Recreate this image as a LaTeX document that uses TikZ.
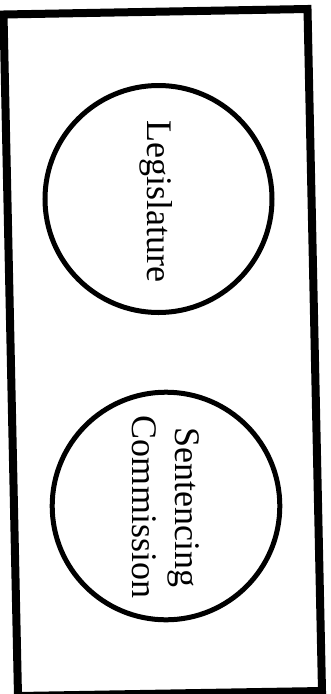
\documentclass[tikz,border=0pt]{standalone}
\usepackage{fontspec}
\setmainfont{Liberation Serif}
\usepackage{tikz}
\usetikzlibrary{calc}

\begin{document}
\begin{tikzpicture}[x=1pt,y=-1pt,
    frame/.style={line width=8pt,line join=miter},
    ring/.style={line width=5pt},
    body/.style={rotate=-90,inner sep=0pt,align=center,
      font=\fontsize{36}{43}\selectfont}]
  \useasboundingbox (0,0) rectangle (330,694);
  % outer box (slightly skewed, as scanned)
  \draw[frame] (3.5,14.5)--(307.5,9)--(322,691)--(18,696)--cycle;
  % the two bodies
  \draw[ring] (158.5,199) circle (113.5);
  \draw[ring] (166,506) circle (113.8);
  \node[body] (leg) at (156.5,201) {Legislature};
  \node[body] (comm) at (166,507) {Sentencing\\Commission};
\end{tikzpicture}
\end{document}
